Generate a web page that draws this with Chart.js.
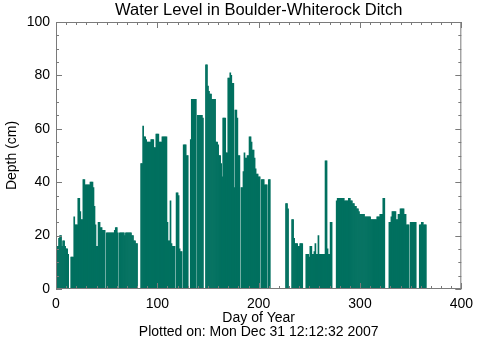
<!DOCTYPE html>
<html>
<head>
<meta charset="utf-8">
<title>Water Level in Boulder-Whiterock Ditch</title>
<script src="https://cdn.jsdelivr.net/npm/chart.js@4/dist/chart.umd.min.js"></script>
<style>
  html, body { margin: 0; padding: 0; background: #fff; }
  #wrap { position: relative; width: 480px; height: 344px; }
</style>
</head>
<body>
<div id="wrap"><canvas id="chartDepth"></canvas></div>
<script>
'use strict';

/* ── Depth (cm) per day, one array per month ── */
var jan = [16, 16, 19, 20, 20, 16, 18, 18, 16, 15, 15, 13, 0, 0, 12, 12, 12, 27, 24, 24,
           24, 34, 34, 29, 26, 26, 41, 41, 39, 39, 39];
var feb = [39, 39, 40, 40, 40, 38, 31, 24, 16, 16, 25, 25, 23, 23, 22, 22, 22, 0, 21, 21,
           21, 21, 21, 21, 21, 21, 22, 23];
var mar = [23, 21, 0, 21, 21, 21, 21, 21, 20, 21, 21, 21, 21, 21, 21, 20, 20, 18, 18, 17,
           17, 0, 0, 0, 47, 47, 61, 57, 57, 56, 55];
var apr = [55, 55, 55, 56, 56, 56, 53, 53, 58, 58, 58, 55, 55, 55, 57, 57, 57, 57, 57, 25,
           18, 18, 33, 17, 16, 16, 16, 0, 36, 36];
var may = [35, 15, 14, 14, 0, 54, 54, 54, 50, 50, 0, 0, 56, 71, 71, 71, 71, 71, 0, 65,
           65, 65, 65, 65, 64, 0, 0, 84, 84, 76, 74];
var jun = [73, 73, 71, 71, 71, 71, 55, 55, 54, 50, 50, 47, 42, 64, 64, 64, 51, 51, 79, 79,
           81, 80, 77, 77, 38, 67, 67, 64, 50, 50];
var jul = [0, 38, 38, 44, 51, 49, 49, 50, 50, 57, 57, 55, 52, 52, 49, 45, 43, 43, 42, 42,
           0, 41, 41, 41, 39, 39, 39, 0, 41, 41, 0];
var aug = [0, 0, 0, 0, 0, 0, 0, 0, 0, 0, 0, 0, 0, 0, 32, 32, 30, 0, 0, 0,
           26, 26, 19, 17, 17, 17, 16, 16, 17, 17, 17];
var sep = [0, 0, 0, 13, 13, 13, 12, 16, 16, 13, 13, 14, 17, 13, 13, 20, 13, 13, 13, 13,
           13, 13, 48, 48, 15, 13, 13, 25, 25, 0];
var oct = [0, 0, 0, 33, 34, 34, 34, 34, 34, 34, 34, 33, 33, 33, 33, 34, 34, 33, 33, 32,
           32, 31, 31, 30, 30, 29, 28, 28, 28, 28, 28];
var nov = [27, 27, 27, 27, 27, 27, 26, 26, 26, 26, 26, 26, 27, 27, 27, 28, 28, 28, 34, 34,
           0, 0, 0, 0, 25, 25, 27, 29, 29, 29];
var dec = [29, 26, 26, 28, 28, 30, 30, 30, 30, 28, 28, 24, 24, 24, 0, 25, 25, 25, 25, 25,
           25, 0, 0, 0, 24, 24, 25, 25, 24, 24, 24];

var depth = [].concat(jan, feb, mar, apr, may, jun, jul, aug, sep, oct, nov, dec);

/* ── Axis ticks ── */
var xTicks = [0, 100, 200, 300, 400];
var yTicks = [0, 20, 40, 60, 80, 100];

/* ── Texts ── */
var TITLE    = 'Water Level in Boulder-Whiterock Ditch';
var X_TITLE  = 'Day of Year';
var Y_TITLE  = 'Depth (cm)';
var FOOTNOTE = 'Plotted on: Mon Dec 31 12:12:32 2007';

var BAR_COLOR   = '#00705f';
var FRAME_COLOR = '#7a7a7a';
var FONT = 'Liberation Sans, Arial, Helvetica, sans-serif';

/* Points {x: jour, y: profondeur} */
var points = depth.map(function (v, i) { return { x: i + 1, y: v }; });

/* Cadre + graduations vers l'intérieur (style IDL) */
var framePlugin = {
    id: 'idlFrame',
    afterDatasetsDraw: function (chart) {
        var a = chart.chartArea, ctx = chart.ctx;
        var sx = chart.scales.x, sy = chart.scales.y;
        ctx.save();
        ctx.strokeStyle = FRAME_COLOR;
        ctx.lineWidth = 1;
        ctx.strokeRect(a.left + 0.5, a.top + 0.5, a.right - a.left - 1, a.bottom - a.top - 1);
        ctx.beginPath();
        var v, p, len;
        for (v = 0; v <= 400; v += 10) {
            p = Math.round(sx.getPixelForValue(v)) + 0.5;
            len = (v % 100 === 0) ? 6 : 3;
            ctx.moveTo(p, a.bottom); ctx.lineTo(p, a.bottom - len);
            ctx.moveTo(p, a.top);    ctx.lineTo(p, a.top + len);
        }
        for (v = 0; v <= 100; v += 5) {
            p = Math.round(sy.getPixelForValue(v)) + 0.5;
            len = (v % 20 === 0) ? 6 : 3;
            ctx.moveTo(a.left, p);  ctx.lineTo(a.left + len, p);
            ctx.moveTo(a.right, p); ctx.lineTo(a.right - len, p);
        }
        ctx.stroke();
        ctx.restore();
    }
};

new Chart(document.getElementById('chartDepth'), {
    type: 'bar',
    data: {
        datasets: [{
            label: 'Depth',
            data: points,
            backgroundColor: BAR_COLOR,
            borderWidth: 0,
            barPercentage: 1,
            categoryPercentage: 1
        }]
    },
    options: {
        responsive: true,
        maintainAspectRatio: false,
        animation: false,
        devicePixelRatio: 1,
        layout: { padding: { left: 0, right: 13, top: 0, bottom: 0 } },
        plugins: {
            legend: { display: false },
            tooltip: { enabled: false }
        },
        scales: {
            x: {
                type: 'linear',
                position: 'bottom',
                offset: false,
                min: 0, max: 400,
                afterBuildTicks: function (s) { s.ticks = xTicks.map(function (v) { return { value: v }; }); },
                ticks: { color: '#000', padding: 7, maxRotation: 0, font: { family: FONT, size: 14 } },
                grid: { display: false, drawTicks: false, offset: false },
                border: { display: false },
                title: {
                    display: true,
                    text: [X_TITLE, FOOTNOTE],
                    color: '#000',
                    font: { family: FONT, size: 14, lineHeight: 1 },
                    padding: { top: 0, bottom: 5 }
                },
                afterFit: function (s) { s.height = 55; }
            },
            xTop: {
                type: 'linear',
                position: 'top',
                offset: false,
                min: 0, max: 400,
                ticks: { display: false },
                grid: { display: false, drawTicks: false },
                border: { display: false },
                title: {
                    display: true,
                    text: TITLE,
                    color: '#000',
                    font: { family: FONT, size: 16.5, lineHeight: 1 },
                    padding: { top: 2, bottom: 0 }
                },
                afterFit: function (s) { s.height = 22; }
            },
            y: {
                min: 0, max: 100,
                afterBuildTicks: function (s) { s.ticks = yTicks.map(function (v) { return { value: v }; }); },
                ticks: { color: '#000', padding: 6, font: { family: FONT, size: 14 } },
                grid: { display: false, drawTicks: false },
                border: { display: false },
                title: {
                    display: true,
                    text: Y_TITLE,
                    color: '#000',
                    font: { family: FONT, size: 14, lineHeight: 1 },
                    padding: { top: 5, bottom: 0 }
                },
                afterFit: function (s) { s.width = 56; }
            }
        }
    },
    plugins: [framePlugin]
});
</script>
</body>
</html>
